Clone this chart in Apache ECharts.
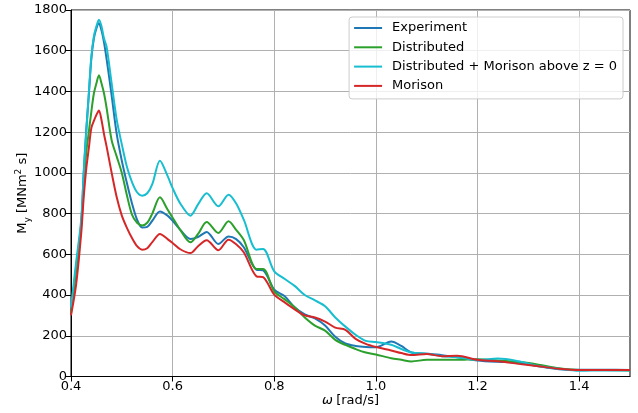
<!DOCTYPE html>
<html>
<head>
<meta charset="utf-8">
<script src="https://cdn.jsdelivr.net/npm/echarts@6/dist/echarts.min.js"></script>
<style>
html,body{margin:0;padding:0;background:#fff;}
#chart{width:638px;height:413px;}
</style>
</head>
<body>
<div id="chart"></div>
<script>
// omega [rad/s]
var omega = [0.40, 0.41, 0.42, 0.425, 0.43, 0.435, 0.44, 0.445, 0.45, 0.455, 0.46, 0.465, 0.47, 0.48, 0.49, 0.50, 0.51, 0.52, 0.53, 0.54, 0.55, 0.56, 0.575, 0.59, 0.60, 0.615, 0.635, 0.65, 0.667, 0.69, 0.71, 0.725, 0.74, 0.765, 0.778, 0.80, 0.82, 0.84, 0.86, 0.88, 0.90, 0.92, 0.94, 0.96, 0.98, 1.00, 1.03, 1.05, 1.07, 1.10, 1.13, 1.16, 1.20, 1.24, 1.28, 1.32, 1.36, 1.40, 1.45, 1.50];

var experiment = [320, 530, 750, 1000, 1210, 1380, 1560, 1660, 1710, 1735, 1700, 1640, 1560, 1380, 1190, 1060, 950, 850, 770, 732, 735, 765, 810, 790, 765, 720, 675, 685, 710, 651, 688, 675, 635, 524, 521, 426, 395, 340, 305, 285, 250, 195, 162, 150, 145, 144, 172, 150, 118, 112, 105, 95, 79, 72, 68, 50, 36, 33, 33, 32];

var distributed = [310, 520, 740, 930, 1100, 1200, 1300, 1390, 1440, 1480, 1440, 1390, 1320, 1160, 1080, 1000, 890, 795, 755, 742, 755, 800, 880, 820, 780, 720, 659, 700, 759, 705, 762, 720, 670, 528, 528, 418, 380, 340, 290, 250, 225, 180, 155, 135, 118, 108, 90, 82, 74, 82, 82, 82, 85, 78, 72, 58, 40, 32, 32, 30];

var distMorison = [340, 560, 770, 1000, 1200, 1390, 1570, 1670, 1720, 1752, 1720, 1660, 1620, 1440, 1260, 1140, 1030, 955, 905, 888, 900, 945, 1060, 985, 925, 850, 790, 845, 900, 836, 893, 850, 770, 623, 626, 516, 480, 445, 400, 374, 345, 290, 245, 205, 175, 169, 156, 135, 118, 112, 100, 95, 82, 88, 75, 52, 38, 28, 30, 30];

var morison = [300, 450, 700, 880, 1020, 1120, 1220, 1255, 1285, 1307, 1260, 1190, 1130, 1000, 880, 790, 730, 680, 640, 623, 630, 660, 700, 675, 656, 625, 606, 640, 669, 620, 672, 650, 610, 492, 488, 402, 365, 330, 300, 290, 270, 240, 229, 185, 160, 145, 128, 115, 105, 110, 100, 102, 82, 75, 62, 50, 38, 32, 32, 32];

var seriesNames = ['Experiment', 'Distributed', 'Distributed + Morison above z = 0', 'Morison'];
var seriesColors = ['#1f77b4', '#2ca02c', '#17becf', '#d62728'];
var seriesValues = [experiment, distributed, distMorison, morison];

var xTicks = [0.4, 0.6, 0.8, 1.0, 1.2, 1.4];

function pairs(ys) { return omega.map(function (x, i) { return [x, ys[i]]; }); }

var font = 'DejaVu Sans';
var chart = echarts.init(document.getElementById('chart'), null, {renderer: 'canvas'});

var series = seriesNames.map(function (name, k) {
  return {
    name: name,
    type: 'line',
    data: pairs(seriesValues[k]),
    smooth: 0.3,
    showSymbol: false,
    symbol: 'none',
    lineStyle: {color: seriesColors[k], width: 2},
    itemStyle: {color: seriesColors[k]},
    z: 2 + k,
    animation: false
  };
});

chart.setOption({
  animation: false,
  backgroundColor: '#fff',
  grid: {left: 71, right: 8, top: 10, bottom: 36.5, containLabel: false, outerBoundsMode: 'none',
    show: true, borderColor: '#000', borderWidth: 1, backgroundColor: 'transparent'},
  legend: {
    orient: 'vertical',
    right: 15,
    top: 17,
    padding: [4, 6, 6, 5],
    itemWidth: 28,
    itemHeight: 2,
    itemGap: 5.3,
    icon: 'rect',
    backgroundColor: 'rgba(255,255,255,0.8)',
    borderColor: '#cccccc',
    borderWidth: 1,
    borderRadius: 3,
    textStyle: {fontFamily: font, fontSize: 13, color: '#000', lineHeight: 14, padding: [0, 0, 0, 5]},
    data: seriesNames
  },
  xAxis: {
    type: 'value',
    min: 0.4,
    max: 1.5,
    interval: 0.2,
    name: '{i|ω} {n|[rad/s]}',
    nameLocation: 'middle',
    nameGap: 18,
    nameMoveOverlap: false,
    nameTextStyle: {
      rich: {
        i: {fontFamily: font, fontSize: 13, fontStyle: 'italic', color: '#000'},
        n: {fontFamily: font, fontSize: 13, color: '#000'}
      }
    },
    axisLine: {show: true, onZero: false, lineStyle: {color: '#000', width: 1}},
    axisTick: {show: true, length: 5, lineStyle: {color: '#000'}, customValues: xTicks},
    axisLabel: {fontFamily: font, fontSize: 13, color: '#000', margin: 4, customValues: xTicks,
      formatter: function (v) { return v.toFixed(1); }},
    splitLine: {show: true, lineStyle: {color: '#b0b0b0', width: 1}}
  },
  yAxis: {
    type: 'value',
    min: 0,
    max: 1800,
    interval: 200,
    name: '{m|M}{sub|y}{m| [MNm}{sup|2}{m| s]}',
    nameLocation: 'middle',
    nameGap: 39,
    nameMoveOverlap: false,
    nameRotate: 90,
    nameTextStyle: {
      rich: {
        m: {fontFamily: font, fontSize: 13, color: '#000', lineHeight: 18, verticalAlign: 'middle'},
        sub: {fontFamily: font, fontSize: 9, color: '#000', lineHeight: 18, verticalAlign: 'bottom'},
        sup: {fontFamily: font, fontSize: 9, color: '#000', lineHeight: 18, verticalAlign: 'top'}
      }
    },
    axisLine: {show: true, onZero: false, lineStyle: {color: '#000', width: 1}},
    axisTick: {show: true, length: 5, lineStyle: {color: '#000'}},
    axisLabel: {fontFamily: font, fontSize: 13, color: '#000', margin: 4,
      formatter: function (v) { return String(v); }},
    splitLine: {show: true, lineStyle: {color: '#b0b0b0', width: 1}}
  },
  series: series
});
</script>
</body>
</html>
